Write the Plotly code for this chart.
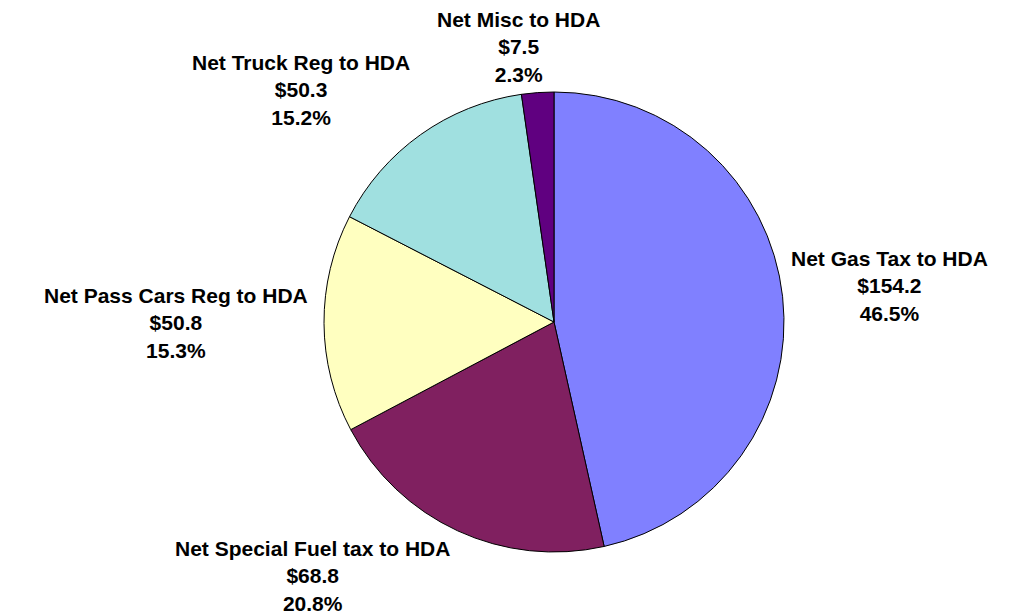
import math
import plotly.graph_objects as go

labels = ["Net Gas Tax to HDA", "Net Special Fuel tax to HDA", "Net Pass Cars Reg to HDA",
          "Net Truck Reg to HDA", "Net Misc to HDA"]
values = [154.2, 68.8, 50.8, 50.3, 7.5]
percents = ["46.5%", "20.8%", "15.3%", "15.2%", "2.3%"]
colors = ["#8080FF", "#802060", "#FFFFC0", "#A0E0E0", "#600080"]

W, H = 1025, 615
cx, cy = 546, 314          # pie centre in figure pixels
r = 230                    # pie radius in pixels
rx, ry = 240, 231          # label placement ellipse
gap = 4

fig = go.Figure()
fig.add_trace(go.Pie(
    labels=labels, values=values, sort=False, direction="clockwise", rotation=0,
    marker=dict(colors=colors, line=dict(color="black", width=1)),
    textinfo="none", hoverinfo="skip", showlegend=False,
    domain=dict(x=[(cx - r) / W, (cx + r) / W], y=[(H - cy - r) / H, (H - cy + r) / H]),
))

total = sum(values)
cum = 0.0
for lab, v, p in zip(labels, values, percents):
    mid = (cum + v / 2) / total * 2 * math.pi
    cum += v
    s, c = math.sin(mid), math.cos(mid)
    px = cx + (rx + gap) * s
    py = cy - (ry + gap) * c
    xa = "left" if s > 0.3 else ("right" if s < -0.3 else "center")
    ya = "bottom" if c > 0.3 else ("top" if c < -0.3 else "middle")
    if xa == "center":
        px -= 18
    if ya == "middle" and xa == "left":
        py -= 10
        px -= 8
    fig.add_annotation(
        x=px / W, y=1 - py / H, xref="paper", yref="paper",
        xanchor=xa, yanchor=ya, showarrow=False, align="center",
        text=f"<b>{lab}</b><br><b>${v}</b><br><b>{p}</b>",
        font=dict(family="Liberation Sans, Arial, sans-serif", size=21, color="black"),
    )

fig.update_layout(
    width=W, height=H, margin=dict(l=0, r=0, t=0, b=0),
    paper_bgcolor="white", plot_bgcolor="white",
)
fig.write_html("out.html")
